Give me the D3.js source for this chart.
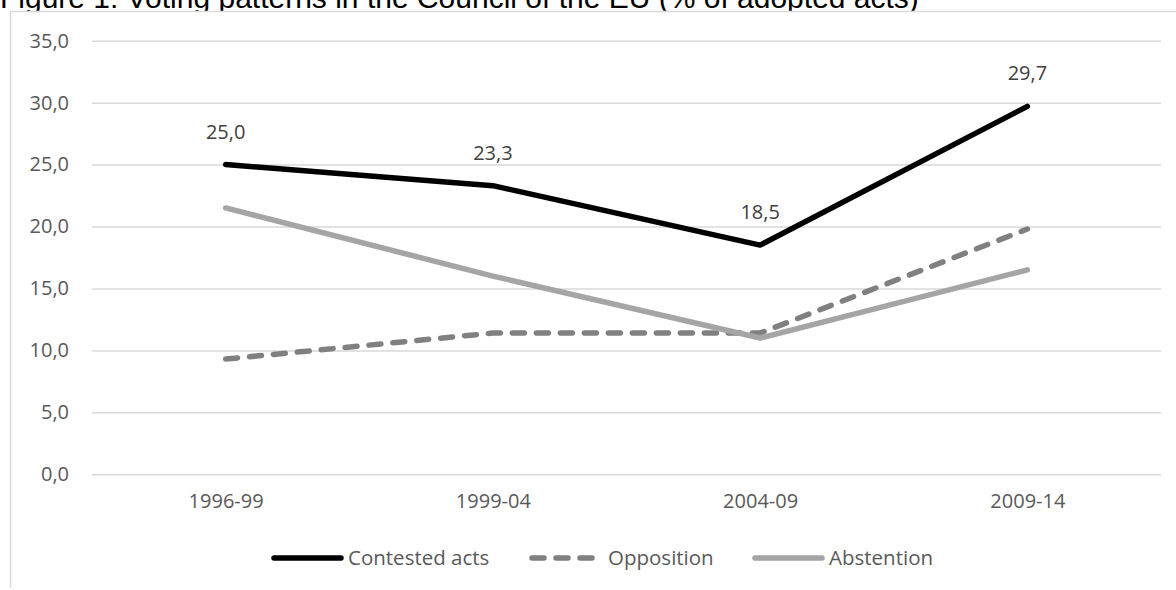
<!DOCTYPE html>
<html><head><meta charset="utf-8">
<script src="https://cdn.jsdelivr.net/npm/d3@7"></script>
<style>
html,body{margin:0;padding:0;background:#fff;overflow:hidden;}
svg{display:block;}
</style></head>
<body>
<svg id="c" width="1176" height="590"></svg>
<script>
const title = "Figure 1: Voting patterns in the Council of the EU (% of adopted acts)";
const categories = ["1996-99", "1999-04", "2004-09", "2009-14"];
const contested = [25.0, 23.3, 18.5, 29.7];
const opposition = [9.3, 11.4, 11.4, 19.8];
const abstention = [21.5, 16.0, 11.0, 16.5];
const seriesNames = ["Contested acts", "Opposition", "Abstention"];
const yTicks = [0, 5, 10, 15, 20, 25, 30, 35];

const font = "'Open Sans', sans-serif";
const fs = 20;
const svg = d3.select("#c");
const loc = d3.formatLocale({decimal: ",", thousands: ".", grouping: [3], currency: ["", ""]});
const fmt = loc.format(".1f");

// title (partly hidden by chart box)
svg.append("text").attr("x", 0).attr("y", 7.5)
  .attr("font-family", "'Liberation Sans', Arial, sans-serif").attr("font-size", 30)
  .attr("fill", "#000").text(title);

// chart box
svg.append("rect").attr("x", 10.5).attr("y", 11.5).attr("width", 1200).attr("height", 600)
  .attr("fill", "#fff");
svg.append("line").attr("x1", 10).attr("x2", 1176).attr("y1", 11.5).attr("y2", 11.5)
  .attr("stroke", "#d9d9d9").attr("stroke-width", 1.5);
svg.append("line").attr("x1", 10.5).attr("x2", 10.5).attr("y1", 11).attr("y2", 588)
  .attr("stroke", "#d9d9d9").attr("stroke-width", 1.5);

const x = d3.scalePoint().domain(categories).range([92, 1161]).padding(0.5);
const y = d3.scaleLinear().domain([0, 35]).range([474.3, 40.7]);

// gridlines + y axis labels
const yAxis = d3.axisLeft(y).tickValues(yTicks).tickSize(-(1161 - 92)).tickFormat(fmt).tickPadding(23);
const gy = svg.append("g").attr("transform", "translate(92,0)").call(yAxis);
gy.select(".domain").remove();
gy.selectAll(".tick line").attr("stroke", "#d9d9d9").attr("stroke-width", 1.5);
gy.selectAll(".tick text").attr("font-family", font).attr("font-size", fs).attr("fill", "#595959");

const xAxis = d3.axisBottom(x).tickSize(0).tickPadding(20);
const gx = svg.append("g").attr("transform", "translate(0,474.3)").call(xAxis);
gx.select(".domain").remove();
gx.selectAll(".tick text").attr("font-family", font).attr("font-size", fs).attr("fill", "#595959");

const series = [
  {name: seriesNames[0], values: contested, color: "#000000", dash: null, width: 5.5},
  {name: seriesNames[1], values: opposition, color: "#808080", dash: "12 12", width: 5.5},
  {name: seriesNames[2], values: abstention, color: "#a5a5a5", dash: null, width: 5.5}
];
const line = d3.line().x((d, i) => x(categories[i])).y(d => y(d));

[series[1], series[2], series[0]].forEach(s => {
  svg.append("path").datum(s.values).attr("d", line)
    .attr("fill", "none").attr("stroke", s.color).attr("stroke-width", s.width)
    .attr("stroke-linecap", "round").attr("stroke-linejoin", "round")
    .attr("stroke-dasharray", s.dash);
});

// data labels for contested
svg.selectAll("text.dl").data(contested).enter().append("text").attr("class", "dl")
  .attr("x", (d, i) => x(categories[i])).attr("y", d => y(d) - 26)
  .attr("text-anchor", "middle").attr("font-family", font).attr("font-size", fs)
  .attr("fill", "#404040").text(d => fmt(d));

// legend
const legendX = [272, 530, 753];
const lg = svg.append("g");
series.forEach((s, i) => {
  const g = lg.append("g").attr("transform", `translate(${legendX[i]},558)`);
  g.append("line").attr("x1", 2).attr("x2", 69).attr("y1", 0).attr("y2", 0)
    .attr("stroke", s.color).attr("stroke-width", 5.5).attr("stroke-linecap", "round")
    .attr("stroke-dasharray", s.dash ? "12 12" : null);
  g.append("text").attr("x", i === 1 ? 78 : 76).attr("y", 7)
    .attr("font-family", font).attr("font-size", fs + 0.5).attr("fill", "#595959").text(s.name);
});
</script>
</body></html>
